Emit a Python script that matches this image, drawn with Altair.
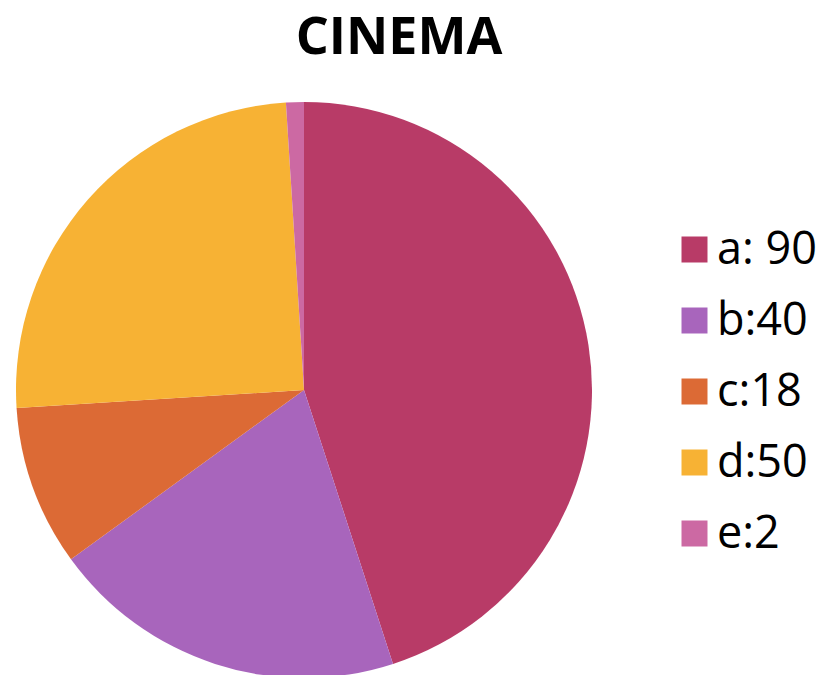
import altair as alt
import pandas as pd

labels = ["a: 90", "b:40", "c:18", "d:50", "e:2"]
values = [90, 40, 18, 50, 2]
colors = ["#B83B67", "#A865BC", "#DC6A35", "#F7B234", "#CC69A3"]
title_text = ["CINEMA"]

df = pd.DataFrame({"label": labels, "value": values, "order": list(range(len(labels)))})

pie = alt.Chart(df).mark_arc(stroke="white", strokeWidth=0).encode(
    theta=alt.Theta("value:Q", stack=True),
    order=alt.Order("order:Q"),
    color=alt.Color(
        "label:N",
        sort=labels,
        scale=alt.Scale(domain=labels, range=colors),
        legend=alt.Legend(
            title=None,
            orient="none",
            legendX=664,
            legendY=219,
            padding=0,
            symbolType="square",
            symbolSize=676,
            symbolStrokeWidth=0,
            labelFontSize=45,
            labelFont="Open Sans",
            labelColor="black",
            labelOffset=0,
            rowPadding=25,
            labelLimit=300,
        ),
    ),
    x=alt.value(296),
    y=alt.value(382),
    radius=alt.value(288),
)

title = alt.Chart(pd.DataFrame({"t": title_text})).mark_text(
    font="Open Sans", fontWeight="bold", fontSize=52, color="black", baseline="middle", align="center"
).encode(
    text="t:N",
    x=alt.value(391),
    y=alt.value(30),
)

chart = alt.layer(pie, title).properties(
    width=815, height=680, padding=0, autosize=alt.AutoSizeParams(type="none")
).configure_view(stroke=None)

chart.save("out.html", embed_options={"renderer": "svg", "actions": False})
